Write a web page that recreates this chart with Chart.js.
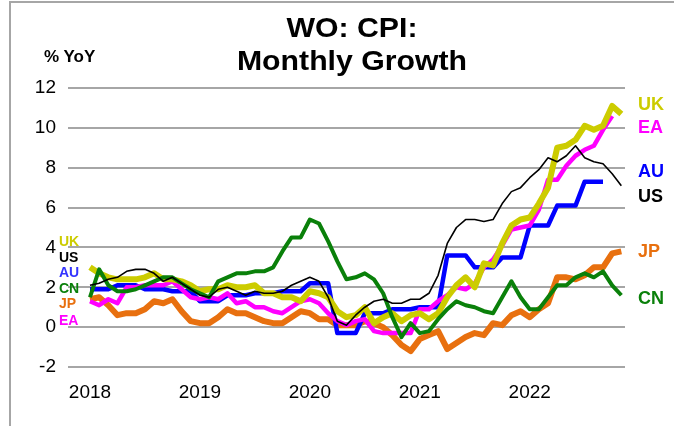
<!DOCTYPE html>
<html>
<head>
<meta charset="utf-8">
<script src="https://cdn.jsdelivr.net/npm/chart.js@4/dist/chart.umd.min.js"></script>
<style>
  body { margin: 0; background: #fff; }
  #wrap { position: relative; width: 674px; height: 426px; overflow: hidden; font-family: "Liberation Sans", Arial, sans-serif; }
  #frame { position: absolute; left: 9px; top: 1px; width: 680px; height: 450px; border-left: 2px solid #a6a6a6; border-top: 2px solid #a6a6a6; }
  canvas { position: absolute; left: 0; top: 0; }
  .t { position: absolute; font-weight: bold; white-space: nowrap; transform: translateY(-50%); }
  .title { left: 0; width: 704px; text-align: center; font-size: 28px; color: #000; transform: translateY(-50%) scaleX(1.08); }
  .lbl { font-size: 14px; }
  .rl { font-size: 18px; left: 638px; }
</style>
</head>
<body>
<div id="wrap">
  <div id="frame"></div>
  <canvas id="cpiChart" width="674" height="426"></canvas>
  <div class="t title" style="top:28px">WO: CPI:</div>
  <div class="t title" style="top:61px">Monthly Growth</div>
  <div class="t" style="left:44px; top:57px; font-size:17px">% YoY</div>

  <div class="t lbl" style="left:59px; top:241px; color:#cccc00">UK</div>
  <div class="t lbl" style="left:59px; top:257px; color:#000">US</div>
  <div class="t lbl" style="left:59px; top:272px; color:#3333ff">AU</div>
  <div class="t lbl" style="left:59px; top:288px; color:#0a800a">CN</div>
  <div class="t lbl" style="left:59px; top:303px; color:#e8700f">JP</div>
  <div class="t lbl" style="left:59px; top:320px; color:#ff00ff">EA</div>

  <div class="t rl" style="top:104px; color:#cccc00">UK</div>
  <div class="t rl" style="top:127px; color:#ff00ff">EA</div>
  <div class="t rl" style="top:171px; color:#0000ff">AU</div>
  <div class="t rl" style="top:196px; color:#000">US</div>
  <div class="t rl" style="top:251px; color:#e8700f">JP</div>
  <div class="t rl" style="top:298px; color:#0a800a">CN</div>
</div>
<script>
// monthly, Jan 2018 - Nov 2022
const years = ['2018', '2019', '2020', '2021', '2022'];

const us = [2.1, 2.2, 2.4, 2.5, 2.8, 2.9, 2.9, 2.7, 2.3, 2.5, 2.2, 1.9,
    1.6, 1.5, 1.9, 2.0, 1.8, 1.6, 1.8, 1.7, 1.7, 1.8, 2.1, 2.3,
    2.5, 2.3, 1.5, 0.3, 0.1, 0.6, 1.0, 1.3, 1.4, 1.2, 1.2, 1.4,
    1.4, 1.7, 2.6, 4.2, 5.0, 5.4, 5.4, 5.3, 5.4, 6.2, 6.8, 7.0,
    7.5, 7.9, 8.5, 8.3, 8.6, 9.1, 8.5, 8.3, 8.2, 7.7, 7.1];

const uk = [3.0, 2.7, 2.5, 2.4, 2.4, 2.4, 2.5, 2.7, 2.4, 2.4, 2.3, 2.1,
    1.8, 1.9, 1.9, 2.1, 2.0, 2.0, 2.1, 1.7, 1.7, 1.5, 1.5, 1.3,
    1.8, 1.7, 1.5, 0.8, 0.5, 0.6, 1.0, 0.2, 0.5, 0.7, 0.3, 0.6,
    0.7, 0.4, 0.7, 1.5, 2.1, 2.5, 2.0, 3.2, 3.1, 4.2, 5.1, 5.4,
    5.5, 6.2, 7.0, 9.0, 9.1, 9.4, 10.1, 9.9, 10.1, 11.1, 10.7];

const ea = [1.3, 1.1, 1.4, 1.2, 2.0, 2.0, 2.1, 2.1, 2.1, 2.3, 1.9, 1.5,
    1.4, 1.5, 1.4, 1.7, 1.2, 1.3, 1.0, 1.0, 0.8, 0.7, 1.0, 1.3,
    1.4, 1.2, 0.7, 0.3, 0.1, 0.3, 0.4, -0.2, -0.3, -0.3, -0.3, -0.3,
    0.9, 0.9, 1.3, 1.6, 2.0, 1.9, 2.2, 3.0, 3.4, 4.1, 4.9, 5.0,
    5.1, 5.9, 7.4, 7.4, 8.1, 8.6, 8.9, 9.1, 9.9, 10.6, null];

// quarterly, held for each month of the quarter
const au = [1.9, 1.9, 1.9, 2.1, 2.1, 2.1, 1.9, 1.9, 1.9, 1.8, 1.8, 1.8,
    1.3, 1.3, 1.3, 1.6, 1.6, 1.6, 1.7, 1.7, 1.7, 1.8, 1.8, 1.8,
    2.2, 2.2, 2.2, -0.3, -0.3, -0.3, 0.7, 0.7, 0.7, 0.9, 0.9, 0.9,
    1.0, 1.0, 1.0, 3.6, 3.6, 3.6, 3.0, 3.0, 3.0, 3.5, 3.5, 3.5,
    5.1, 5.1, 5.1, 6.1, 6.1, 6.1, 7.3, 7.3, 7.3, null, null];

const jp = [1.4, 1.5, 1.1, 0.6, 0.7, 0.7, 0.9, 1.3, 1.2, 1.4, 0.8, 0.3,
    0.2, 0.2, 0.5, 0.9, 0.7, 0.7, 0.5, 0.3, 0.2, 0.2, 0.5, 0.8,
    0.7, 0.4, 0.4, 0.1, 0.1, 0.1, 0.3, 0.2, 0.0, -0.4, -0.9, -1.2,
    -0.6, -0.4, -0.2, -1.1, -0.8, -0.5, -0.3, -0.4, 0.2, 0.1, 0.6, 0.8,
    0.5, 0.9, 1.2, 2.5, 2.5, 2.4, 2.6, 3.0, 3.0, 3.7, 3.8];

const cn = [1.5, 2.9, 2.1, 1.8, 1.8, 1.9, 2.1, 2.3, 2.5, 2.5, 2.2, 1.9,
    1.7, 1.5, 2.3, 2.5, 2.7, 2.7, 2.8, 2.8, 3.0, 3.8, 4.5, 4.5,
    5.4, 5.2, 4.3, 3.3, 2.4, 2.5, 2.7, 2.4, 1.7, 0.5, -0.5, 0.2,
    -0.3, -0.2, 0.4, 0.9, 1.3, 1.1, 1.0, 0.8, 0.7, 1.5, 2.3, 1.5,
    0.9, 0.9, 1.5, 2.1, 2.1, 2.5, 2.7, 2.5, 2.8, 2.1, 1.6];

const toPoints = (arr) => arr.map((v, i) => ({ x: i, y: v }));

const series = (data, color, width) => ({
    data: toPoints(data),
    borderColor: color,
    backgroundColor: color,
    borderWidth: width,
    pointRadius: 0,
    tension: 0,
    spanGaps: false,
    borderJoinStyle: 'round'
});

const tickFont = { family: '"Liberation Sans", Arial, sans-serif', size: 19 };

new Chart(document.getElementById('cpiChart'), {
    type: 'line',
    data: {
        datasets: [
            series(us, '#000000', 1.6),
            series(cn, '#0a800a', 4),
            series(uk, '#cccc00', 6),
            series(ea, '#ff00ff', 4.5),
            series(au, '#0000ff', 4.5),
            series(jp, '#e8700f', 6)
        ]
    },
    options: {
        responsive: false,
        animation: false,
        layout: { padding: { top: 88, right: 49, left: 0, bottom: 0 } },
        plugins: { legend: { display: false }, tooltip: { enabled: false } },
        scales: {
            x: {
                type: 'linear',
                min: -2.4,
                max: 58.4,
                grid: { display: false },
                border: { display: false },
                afterBuildTicks: (scale) => {
                    scale.ticks = years.map((y, i) => ({ value: i * 12 }));
                },
                afterFit: (scale) => { scale.height = 59; },
                ticks: {
                    color: '#000',
                    font: tickFont,
                    padding: 6,
                    maxRotation: 0,
                    callback: (v) => years[Math.round(v / 12)]
                }
            },
            y: {
                min: -2,
                max: 12,
                grid: { color: '#a6a6a6', lineWidth: 2, drawTicks: false },
                border: { display: false },
                afterFit: (scale) => { scale.width = 68; },
                ticks: { stepSize: 2, color: '#000', font: tickFont, padding: 12 }
            }
        }
    }
});
</script>
</body>
</html>
